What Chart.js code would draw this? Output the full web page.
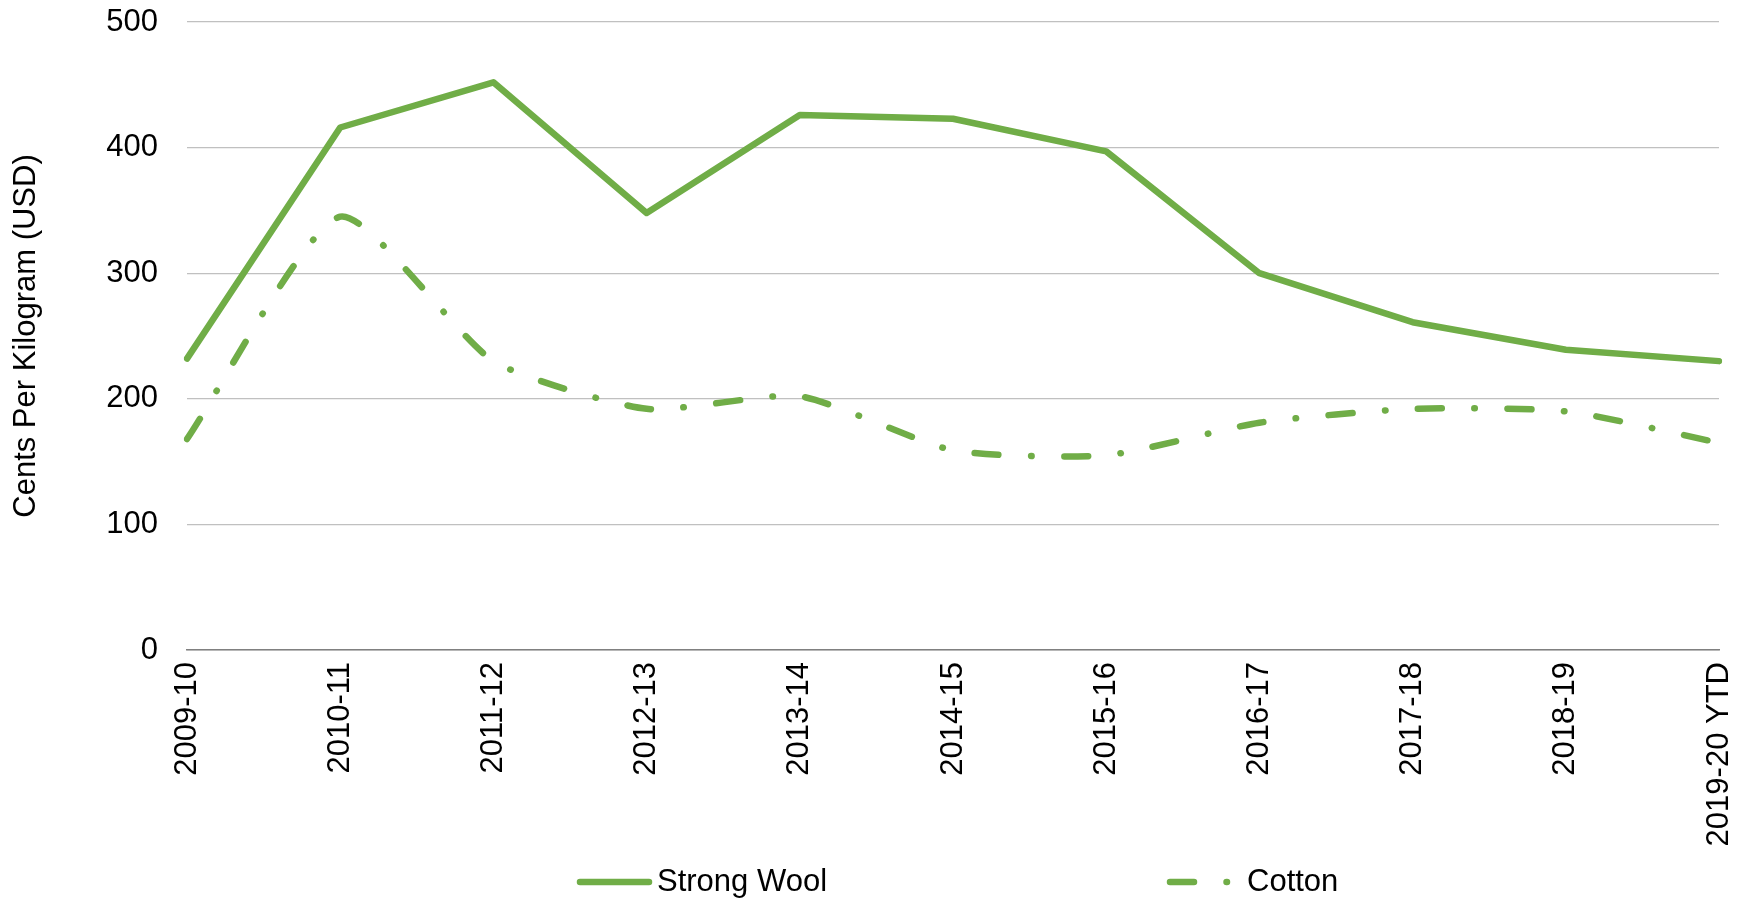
<!DOCTYPE html>
<html>
<head>
<meta charset="utf-8">
<title>Strong Wool vs Cotton</title>
<script src="https://cdn.jsdelivr.net/npm/chart.js@4.4.1/dist/chart.umd.min.js"></script>
<style>
    html, body { margin: 0; padding: 0; background: #fff; }
    #wrap { width: 1746px; height: 900px; }
</style>
</head>
<body>
<div id="wrap"><canvas id="price-chart" width="1746" height="900"></canvas></div>
<script>
// Marketing years on the x axis.
var SEASONS = ['2009-10', '2010-11', '2011-12', '2012-13', '2013-14', '2014-15',
    '2015-16', '2016-17', '2017-18', '2018-19', '2019-20 YTD'];

// Cents per kilogram (USD).
var STRONG_WOOL = [232, 416, 452, 348, 426, 423, 397, 300, 261, 239, 230];
var COTTON = [168, 345, 230, 192, 202, 159, 155, 181, 192, 190, 165];

// Y axis ticks.
var Y_TICKS = [0, 100, 200, 300, 400, 500];

(function () {
    'use strict';

    var GREEN = '#70ad47';
    var FONT = "'Liberation Sans', Arial, sans-serif";
    var COTTON_DASH = [24, 32.5, 0.5, 32.5];

    /**
     * Bottom legend, drawn with each dataset's own stroke style.
     */
    var bottomLegend = {
        id: 'bottomLegend',
        afterDraw: function (chart) {
            var ctx = chart.ctx;
            var y = 882;
            var items = [
                { ds: 0, x1: 580, x2: 649, textX: 657 },
                { ds: 1, x1: 1170, x2: 1230, textX: 1247 }
            ];
            ctx.save();
            items.forEach(function (it) {
                var ds = chart.data.datasets[it.ds];
                ctx.strokeStyle = ds.borderColor;
                ctx.lineWidth = ds.borderWidth;
                ctx.lineCap = 'round';
                ctx.setLineDash(ds.borderDash || []);
                ctx.beginPath();
                ctx.moveTo(it.x1, y);
                ctx.lineTo(it.x2, y);
                ctx.stroke();
                ctx.setLineDash([]);
                ctx.fillStyle = '#000';
                ctx.font = '31px ' + FONT;
                ctx.textBaseline = 'middle';
                ctx.textAlign = 'left';
                ctx.fillText(ds.label, it.textX, y);
            });
            ctx.restore();
        }
    };

    function init() {
        var canvas = document.getElementById('price-chart');
        new Chart(canvas.getContext('2d'), {
            type: 'line',
            data: {
                labels: SEASONS,
                datasets: [{
                    label: 'Strong Wool',
                    data: STRONG_WOOL,
                    borderColor: GREEN,
                    borderWidth: 6.5,
                    borderCapStyle: 'round',
                    borderJoinStyle: 'round',
                    pointRadius: 0,
                    tension: 0,
                    fill: false
                }, {
                    label: 'Cotton',
                    data: COTTON,
                    borderColor: GREEN,
                    borderWidth: 6.5,
                    borderDash: COTTON_DASH,
                    borderCapStyle: 'round',
                    borderJoinStyle: 'round',
                    pointRadius: 0,
                    tension: 0.2,
                    fill: false
                }]
            },
            options: {
                responsive: false,
                animation: false,
                events: [],
                layout: { padding: { left: 4, right: 27, top: 22, bottom: 0 } },
                plugins: {
                    legend: { display: false },
                    tooltip: { enabled: false }
                },
                scales: {
                    x: {
                        offset: false,
                        // transparent ticks keep the label gap without adding edge padding
                        grid: { display: true, color: 'transparent', drawTicks: true,
                            tickLength: 12, tickColor: 'transparent' },
                        border: { display: true, color: '#808080', width: 1.5 },
                        ticks: {
                            color: '#000',
                            font: { family: FONT, size: 31 },
                            minRotation: 90,
                            maxRotation: 90,
                            autoSkip: false,
                            padding: 0
                        },
                        afterFit: function (scale) {
                            scale.height = 250;
                            scale.paddingLeft = 0;
                            scale.paddingRight = 0;
                        }
                    },
                    y: {
                        min: 0,
                        max: 500,
                        afterBuildTicks: function (scale) {
                            scale.ticks = Y_TICKS.map(function (v) { return { value: v }; });
                        },
                        grid: { color: '#c0c0c0', lineWidth: 1.3, drawTicks: true,
                            tickLength: 29, tickColor: 'transparent' },
                        border: { display: false },
                        ticks: {
                            color: '#000',
                            font: { family: FONT, size: 31 },
                            padding: 0
                        },
                        title: {
                            display: true,
                            text: 'Cents Per Kilogram (USD)',
                            color: '#000',
                            font: { family: FONT, size: 31 },
                            padding: { top: 4, bottom: 4 }
                        },
                        afterFit: function (scale) { scale.width = 183; }
                    }
                }
            },
            plugins: [bottomLegend]
        });
    }

    if (document.readyState === 'loading') {
        document.addEventListener('DOMContentLoaded', init);
    } else {
        init();
    }
})();
</script>
</body>
</html>
